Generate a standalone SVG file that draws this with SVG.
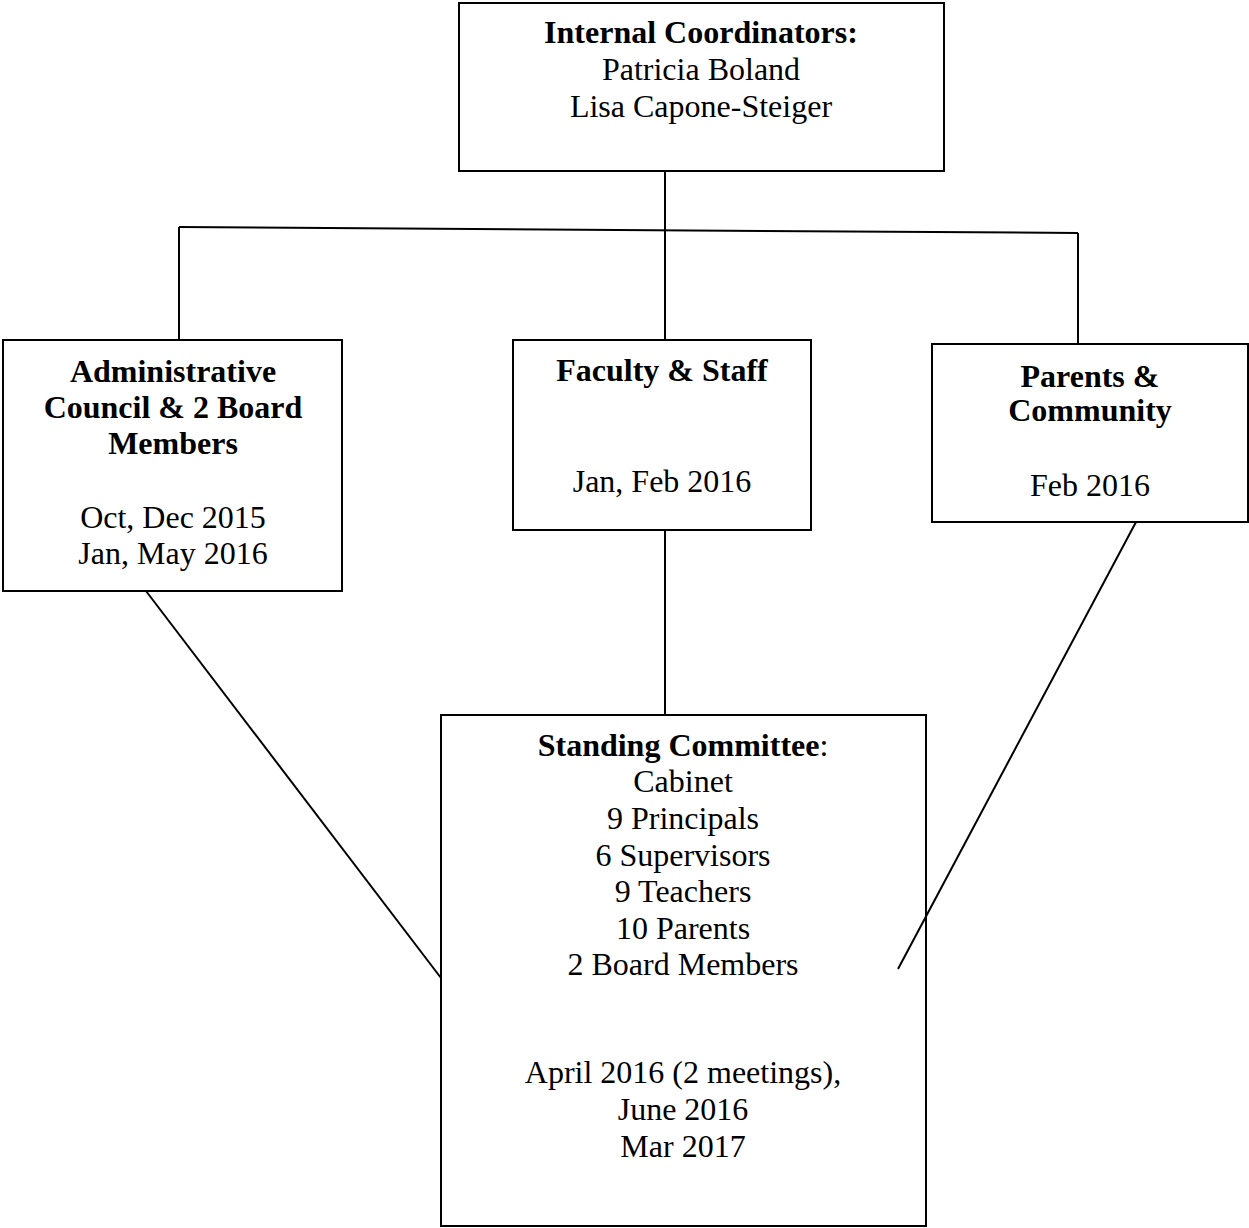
<svg xmlns="http://www.w3.org/2000/svg" width="1249" height="1228" viewBox="0 0 1249 1228">
<style>
.box{fill:#fff;stroke:#000;stroke-width:2}
.ln{fill:none;stroke:#000;stroke-width:2}
text{font-family:"Liberation Serif","Times New Roman",serif;font-size:32px;fill:#000;text-anchor:middle}
.b{font-weight:bold}
</style>
<rect width="1249" height="1228" fill="#fff"/>
<g id="internal-coordinators">
<rect class="box" x="459" y="3" width="485" height="168"/>
<text x="701" y="43" class="b">Internal Coordinators:</text>
<text x="701" y="80">Patricia Boland</text>
<text x="701" y="117">Lisa Capone-Steiger</text>
</g>
<g id="administrative-council">
<rect class="box" x="3" y="340" width="339" height="251"/>
<text x="173" y="382" class="b">Administrative</text>
<text x="173" y="418" class="b">Council &amp; 2 Board</text>
<text x="173" y="454" class="b">Members</text>
<text x="173" y="528">Oct, Dec 2015</text>
<text x="173" y="564">Jan, May 2016</text>
</g>
<g id="faculty-staff">
<rect class="box" x="513" y="340" width="298" height="190"/>
<text x="662" y="381" class="b">Faculty &amp; Staff</text>
<text x="662" y="492">Jan, Feb 2016</text>
</g>
<g id="parents-community">
<rect class="box" x="932" y="344" width="316" height="178"/>
<text x="1090" y="387" class="b">Parents &amp;</text>
<text x="1090" y="421" class="b">Community</text>
<text x="1090" y="496">Feb 2016</text>
</g>
<g id="standing-committee">
<rect class="box" x="441" y="715" width="485" height="511"/>
<text x="683" y="756"><tspan class="b">Standing Committee</tspan>:</text>
<text x="683" y="792">Cabinet</text>
<text x="683" y="829">9 Principals</text>
<text x="683" y="866">6 Supervisors</text>
<text x="683" y="902">9 Teachers</text>
<text x="683" y="939">10 Parents</text>
<text x="683" y="975">2 Board Members</text>
<text x="683" y="1083">April 2016 (2 meetings),</text>
<text x="683" y="1120">June 2016</text>
<text x="683" y="1157">Mar 2017</text>
</g>
<g id="connectors">
<line class="ln" x1="665" y1="171" x2="665" y2="340"/>
<line class="ln" x1="179" y1="227" x2="1078" y2="233"/>
<line class="ln" x1="179" y1="227" x2="179" y2="340"/>
<line class="ln" x1="1078" y1="233" x2="1078" y2="344"/>
<line class="ln" x1="665" y1="530" x2="665" y2="715"/>
<line class="ln" x1="146" y1="591" x2="441" y2="978"/>
<line class="ln" x1="1136" y1="522" x2="898" y2="969"/>
</g>
</svg>
